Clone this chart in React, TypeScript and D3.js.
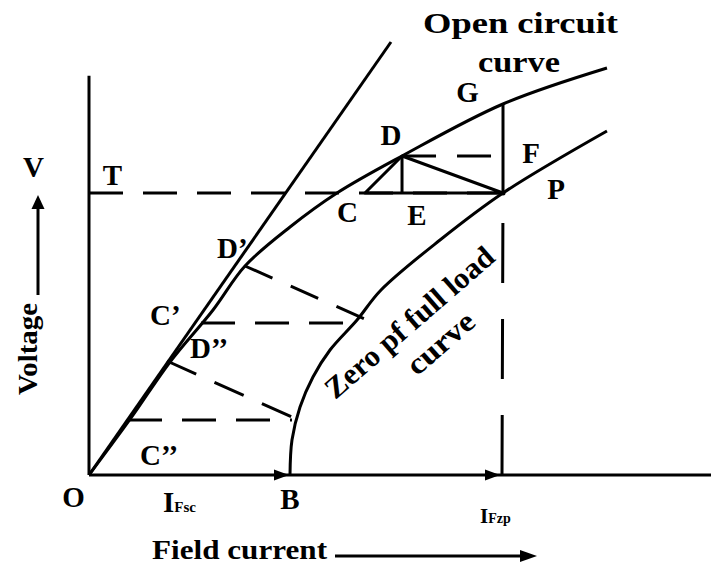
import React from "react";
import * as d3 from "d3";

// Field current (x) and voltage (y) in arbitrary units
const occX = [0, 7, 13.5, 20.67, 26, 33.5, 41.33, 52.17, 69, 86.33];
const occY = [0, 14.25, 28.25, 41.25, 52.25, 62, 70.5, 79.75, 92.75, 101.75];
const zpfX = [33.5, 33.83, 35.17, 37.33, 40.17, 44.67, 48.67, 58.5, 69, 86.33];
const zpfY = [0, 8.75, 17, 24.5, 31.25, 38.75, 46.25, 58.75, 70.5, 86];
const airGapX = [0, 50.33];
const airGapY = [0, 108.25];
const axisMax = { x: 103.7, y: 99.8 };
const ratedV = 70.5; // level of T, C, E, P
const ifsc = 33.5; // B
const ifzp = 69; // P
const pointD = [52.17, 79.75];
const pointC = [46, 70.5];
const pointF = [67.17, 79.75];
const pointG = [69, 92.75];
const dPrime = [26, 52.25];
const dPrimeEnd = [46.33, 38.75];
const cPrimeY = 38;
const cPrimeX = [18.67, 44.5];
const dDouble = [13, 28.5];
const dDoubleEnd = [33.83, 14.5];
const cDoubleY = 13.75;
const cDoubleX = [6.5, 33.83];

const W = 711;
const H = 564;
const FONT = "'Liberation Serif', 'Times New Roman', Times, serif";

export default function App() {
  const x = d3.scaleLinear().domain([0, 100]).range([89, 689]);
  const y = d3.scaleLinear().domain([0, 100]).range([475, 75]);

  const line = d3
    .line<[number, number]>()
    .x((d) => x(d[0]))
    .y((d) => y(d[1]))
    .curve(d3.curveCatmullRom.alpha(0.5));
  const occPts = occX.map((v, i) => [v, occY[i]] as [number, number]);
  const zpfPts = zpfX.map((v, i) => [v, zpfY[i]] as [number, number]);

  const sw = 3;
  const dash = { stroke: "#000", strokeWidth: sw, fill: "none" } as const;

  const arrowRight = (tx: number, ty: number, len = 15, half = 5.5) =>
    `${tx},${ty} ${tx - len},${ty - half} ${tx - len},${ty + half}`;
  const arrowUp = (tx: number, ty: number, len = 14, half = 6.5) =>
    `${tx},${ty} ${tx - half},${ty + len} ${tx + half},${ty + len}`;

  const letters: [string, number, number][] = [
    ["V", 33.5, 177],
    ["T", 112.5, 185],
    ["C", 347.5, 222],
    ["D", 391, 145],
    ["E", 417, 225],
    ["G", 467.5, 102],
    ["F", 531, 163],
    ["P", 556, 199],
    ["O", 73.5, 507],
    ["B", 290, 509],
  ];
  const primed: [string, number, number][] = [
    ["D\u2019", 217, 258],
    ["C\u2019", 150, 325],
    ["D\u2019\u2019", 190, 358],
    ["C\u2019\u2019", 140, 465],
  ];

  const tStyle = { fontFamily: FONT, fontWeight: 700, fill: "#000" } as const;

  return (
    <svg
      width={W}
      height={H}
      style={{ position: "absolute", left: 0, top: 0, background: "#fff" }}
    >
      <rect x={0} y={0} width={W} height={H} fill="#fff" />
      {/* axes */}
      <line x1={x(0)} y1={y(0)} x2={x(0)} y2={y(axisMax.y)} stroke="#000" strokeWidth={sw} />
      <line x1={x(0)} y1={y(0)} x2={x(axisMax.x)} y2={y(0)} stroke="#000" strokeWidth={sw} />
      <polygon points={arrowRight(x(ifsc) - 1, y(0))} fill="#000" />
      <polygon points={arrowRight(x(ifzp) - 3, y(0))} fill="#000" />

      {/* air gap line */}
      <line
        x1={x(airGapX[0])}
        y1={y(airGapY[0])}
        x2={x(airGapX[1])}
        y2={y(airGapY[1])}
        stroke="#000"
        strokeWidth={sw}
      />
      {/* OCC and ZPF */}
      <path d={line(occPts) || ""} fill="none" stroke="#000" strokeWidth={sw} />
      <path d={line(zpfPts) || ""} fill="none" stroke="#000" strokeWidth={sw} />

      {/* dashed construction lines */}
      <line x1={x(0)} y1={y(ratedV)} x2={x(ifzp)} y2={y(ratedV)} {...dash} strokeDasharray="34 20" />
      <line x1={x(pointD[0])} y1={y(pointD[1])} x2={x(pointF[0])} y2={y(pointF[1])} {...dash} strokeDasharray="34 21" />
      <line x1={x(cPrimeX[0])} y1={y(cPrimeY)} x2={x(cPrimeX[1])} y2={y(cPrimeY)} {...dash} strokeDasharray="34 20" />
      <line x1={x(dPrime[0])} y1={y(dPrime[1])} x2={x(dPrimeEnd[0])} y2={y(dPrimeEnd[1])} {...dash} strokeDasharray="30 20" />
      <line x1={x(dDouble[0])} y1={y(dDouble[1])} x2={x(dDoubleEnd[0])} y2={y(dDoubleEnd[1])} {...dash} strokeDasharray="32 20" />
      <line x1={x(cDoubleX[0])} y1={y(cDoubleY)} x2={x(cDoubleX[1])} y2={y(cDoubleY)} {...dash} strokeDasharray="34 20" />
      <line x1={x(ifzp) - 1} y1={y(0)} x2={x(ifzp)} y2={y(ratedV)} {...dash} strokeDasharray="60 36" />

      {/* Potier triangle */}
      <polygon
        points={[
          [x(pointC[0]), y(pointC[1])],
          [x(pointD[0]), y(pointD[1])],
          [x(ifzp), y(ratedV)],
        ]
          .map((p) => p.join(","))
          .join(" ")}
        fill="none"
        stroke="#000"
        strokeWidth={sw}
        strokeLinejoin="round"
      />
      <line x1={x(pointD[0])} y1={y(pointD[1])} x2={x(pointD[0])} y2={y(ratedV)} stroke="#000" strokeWidth={sw} />
      <line x1={x(pointG[0])} y1={y(pointG[1])} x2={x(ifzp)} y2={y(ratedV)} stroke="#000" strokeWidth={sw} />
      <circle cx={x(ifzp)} cy={y(ratedV)} r={2.5} fill="#000" />

      {/* letters */}
      {letters.map(([t, lx, ly]) => (
        <text key={t} x={lx} y={ly} textAnchor="middle" fontSize={29} style={tStyle}>
          {t}
        </text>
      ))}
      {primed.map(([t, lx, ly]) => (
        <text key={t} x={lx} y={ly} fontSize={29} style={tStyle}>
          {t}
        </text>
      ))}

      {/* I_Fsc, I_Fzp */}
      <text x={163} y={512} fontSize={29} style={tStyle}>
        I<tspan fontSize={15}>Fsc</tspan>
      </text>
      <text x={480} y={523} fontSize={21} style={tStyle}>
        I<tspan fontSize={14}>Fzp</tspan>
      </text>

      {/* curve titles */}
      <text x={423} y={33} fontSize={29} textLength={195} lengthAdjust="spacingAndGlyphs" style={tStyle}>
        Open circuit
      </text>
      <text x={478} y={72} fontSize={29} textLength={82} lengthAdjust="spacingAndGlyphs" style={tStyle}>
        curve
      </text>
      <g transform="translate(416,330) rotate(-41)">
        <text x={0} y={0} textAnchor="middle" fontSize={30} textLength={214} lengthAdjust="spacingAndGlyphs" style={tStyle}>
          Zero pf full load
        </text>
        <text x={10} y={36} textAnchor="middle" fontSize={30} textLength={80} lengthAdjust="spacingAndGlyphs" style={tStyle}>
          curve
        </text>
      </g>

      {/* axis titles */}
      <text x={152} y={559} fontSize={27} textLength={175} lengthAdjust="spacingAndGlyphs" style={tStyle}>
        Field current
      </text>
      <line x1={335} y1={556} x2={524} y2={556} stroke="#000" strokeWidth={sw} />
      <polygon points={arrowRight(537, 556, 17, 6)} fill="#000" />

      <text transform="translate(37,349) rotate(-90)" textAnchor="middle" fontSize={28} textLength={92} lengthAdjust="spacingAndGlyphs" style={tStyle}>
        Voltage
      </text>
      <line x1={38} y1={295} x2={38} y2={205} stroke="#000" strokeWidth={sw} />
      <polygon points={arrowUp(38, 195)} fill="#000" />
    </svg>
  );
}
